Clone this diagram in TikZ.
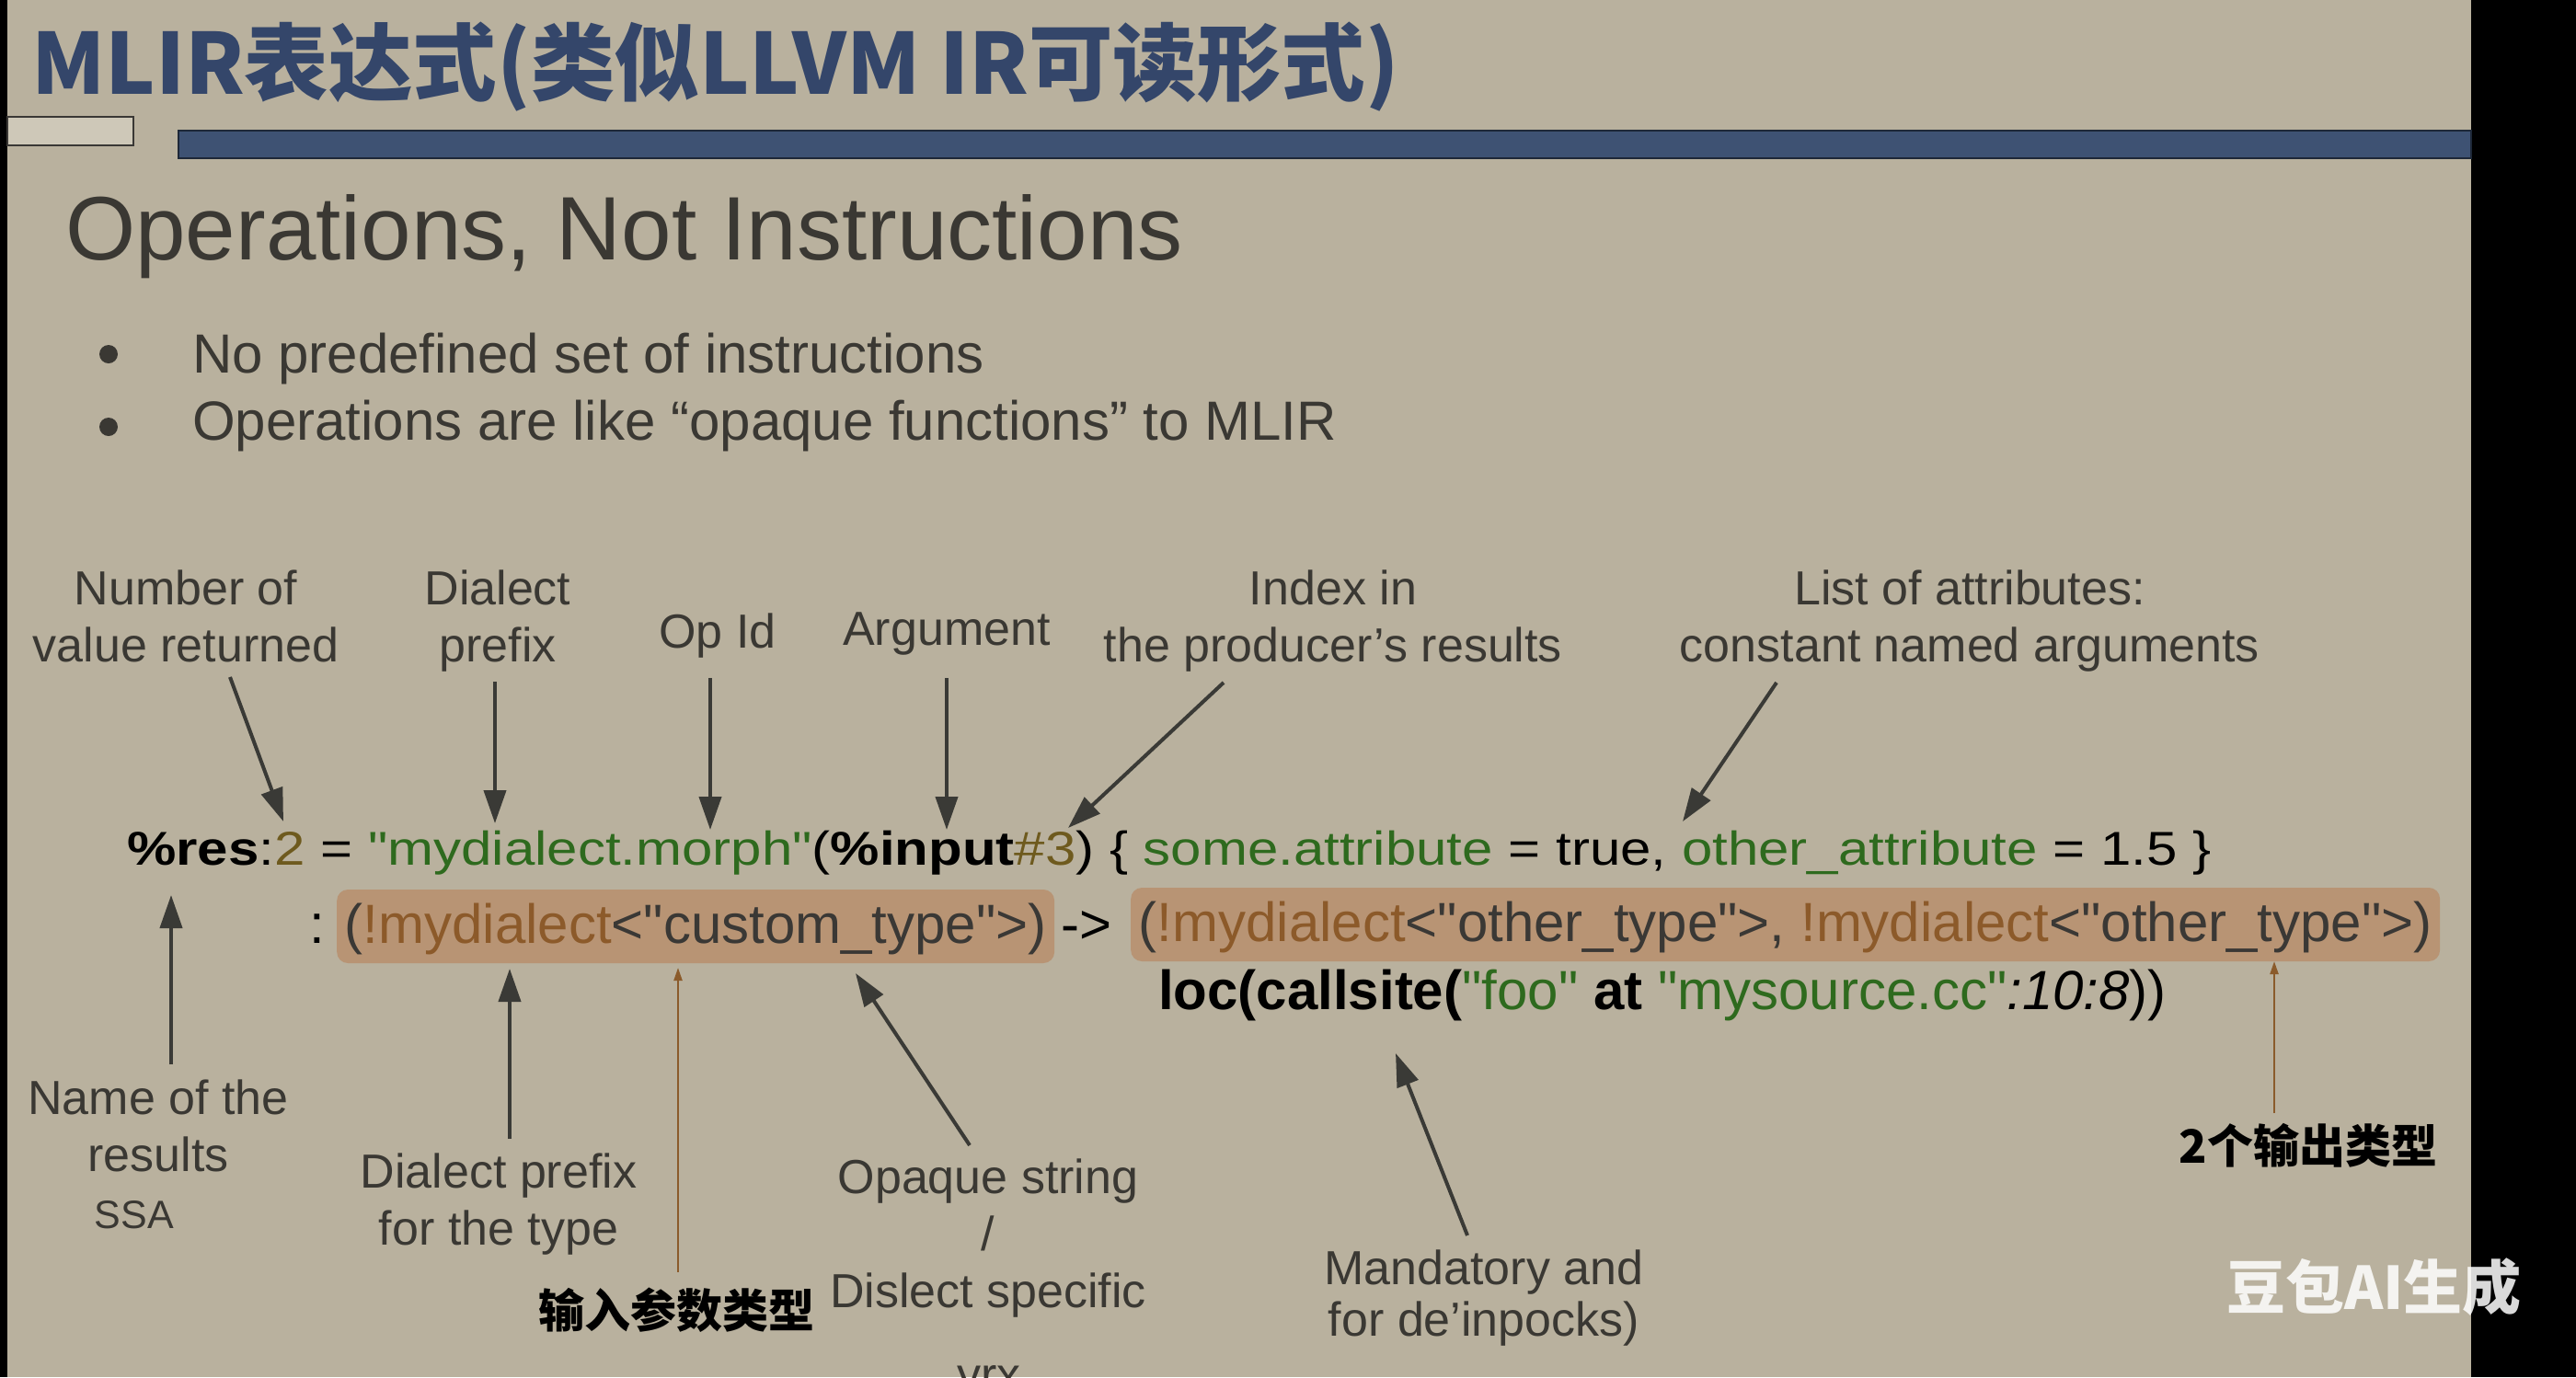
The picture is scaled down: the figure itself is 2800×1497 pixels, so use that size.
\documentclass[tikz,border=0pt]{standalone}
\usepackage{fontspec}
\usepackage{graphicx}
\setmainfont{Liberation Sans}
\newfontfamily\codefont{Liberation Sans}[Ligatures=TeXOff]
\newfontfamily\cjk{Noto Sans CJK SC}
\usetikzlibrary{arrows.meta,calc}
\definecolor{bg}{RGB}{185,177,158}
\definecolor{ttl}{RGB}{52,70,106}
\definecolor{barc}{RGB}{62,82,115}
\definecolor{bare}{RGB}{30,40,56}
\definecolor{boxf}{RGB}{206,200,184}
\definecolor{txt}{RGB}{58,56,51}
\definecolor{grn}{RGB}{46,106,30}
\definecolor{olv}{RGB}{110,90,30}
\definecolor{brn}{RGB}{140,90,42}
\definecolor{gry}{RGB}{58,56,53}
\definecolor{hl}{RGB}{184,148,116}
\definecolor{arrc}{RGB}{58,58,54}
\definecolor{barr}{RGB}{139,91,43}
\tikzset{
  lab/.style={font=\fontsize{52}{62}\selectfont, text=txt, align=center, inner sep=0pt, anchor=north},
  cjklab/.style={font=\cjk\bfseries\fontsize{50}{60}\selectfont, text=black, inner sep=0pt, anchor=north},
  darr/.style={draw=arrc, line width=4pt, -{Triangle[length=36pt,width=24pt]}},
  brarr/.style={draw=barr, line width=2.2pt, -{Triangle[length=14pt,width=9pt]}},
  codetxt/.style={font=\codefont\fontsize{60}{72}\selectfont, text=black, inner sep=0pt},
  tybox/.style={codetxt, fill=hl, rounded corners=12pt, inner xsep=8.5pt, inner ysep=0pt,
    minimum height=80pt, anchor=west, text height=49pt, text depth=13pt, text=gry},
  bullet/.style={circle, fill=txt, inner sep=0pt, minimum size=20pt}
}
\begin{document}
\begin{tikzpicture}[x=1pt,y=-1pt]
\useasboundingbox (0,0) rectangle (2800,1497);
\clip (0,0) rectangle (2800,1497);
% background
\fill[black] (0,0) rectangle (2800,1497);
\fill[bg] (8,0) rectangle (2686,1497);
% header
\node[font=\cjk\bfseries\fontsize{91.5}{100}\selectfont, text=ttl, inner sep=0pt, anchor=base west] (title) at (34,102) {MLIR表达式(类似LLVM IR可读形式)};
\filldraw[fill=boxf, draw=gry, line width=2.5pt] (8,127) rectangle (145,158);
\filldraw[fill=barc, draw=bare, line width=2pt] (194,142) rectangle (2686,172);
% slide heading and bullets
\node[font=\fontsize{98}{110}\selectfont, text=txt, inner sep=0pt, anchor=base west] (head) at (71,282) {Operations, Not Instructions};
\node[bullet] (b1) at (118,385) {};
\node[bullet] (b2) at (118,464) {};
\node[font=\fontsize{60}{72}\selectfont, text=txt, inner sep=0pt, anchor=base west] (bt1) at (209,405) {No predefined set of instructions};
\node[font=\fontsize{60}{72}\selectfont, text=txt, inner sep=0pt, anchor=base west] (bt2) at (209,478) {Operations are like “opaque functions” to MLIR};
% code line 1
\node[codetxt, anchor=base west] (ln1) at (138,940) {\scalebox{1}[0.86]{{\bfseries\%res}:\textcolor{olv}{2} = \textcolor{grn}{"mydialect.morph"}({\bfseries\%input}\textcolor{olv}{\#3}) \{ \textcolor{grn}{some.attribute} = true, \textcolor{grn}{other\_attribute} = 1.5 \}}};
% code line 2
\node[codetxt, anchor=base west] (colon) at (336,1025) {:};
\node[tybox] (ty1) at (366,1007) {(\textcolor{brn}{!mydialect}<"custom\_type">)};
\node[codetxt, anchor=base west] (to) at (1153,1025) {->};
\node[tybox] (ty2) at (1229,1005) {(\textcolor{brn}{!mydialect}<"other\_type">, \textcolor{brn}{!mydialect}<"other\_type">)};
% code line 3
\node[codetxt, anchor=base west] (ln3) at (1259,1097) {{\bfseries loc(callsite(}\textcolor{grn}{"foo"}{\bfseries{} at }\textcolor{grn}{"mysource.cc"}\textit{:10:8}))};
% top labels
\node[lab] (l1) at (202,620) {Number of\\value returned};
\node[lab] (l2) at (541,620) {Dialect\\prefix};
\node[lab] (l3) at (780,667) {Op Id};
\node[lab] (l4) at (1029,666) {Argument};
\node[lab] (l5) at (1449,620) {Index in\\the producer’s results};
\node[lab] (l6) at (2141,620) {List of attributes:\\constant named arguments};
\coordinate (t1) at (308,893);
\coordinate (t2) at (538,895);
\coordinate (t3) at (772,902);
\coordinate (t4) at (1029,902);
\coordinate (t5) at (1161,900);
\coordinate (t6) at (1829,893);
\draw[darr] ($(l1.north)+(48,116)$) -- (t1);
\draw[darr] ($(l2.north)+(-3,121)$) -- (t2);
\draw[darr] ($(l3.north)+(-8,70)$) -- (t3);
\draw[darr] ($(l4.north)+(0,71)$) -- (t4);
\draw[darr] ($(l5.north)+(-119,122)$) -- (t5);
\draw[darr] ($(l6.north)+(-210,122)$) -- (t6);
% bottom labels
\node[lab] (m1) at (172,1174) {Name of the\\results\\{\fontsize{43}{62}\selectfont SSA}\hspace*{52pt}};
\node[lab] (m2) at (542,1254) {Dialect prefix\\for the type};
\node[cjklab] (m3) at (735,1400) {输入参数类型};
\node[lab] (m4) at (1074,1260) {Opaque string\\/\\Dislect specific};
\node[lab, anchor=base] (m4b) at (1075,1512) {yrx};
\node[lab, font=\fontsize{52}{56}\selectfont] (m5) at (1613,1359) {Mandatory and\\for de’inpocks)};
\node[cjklab] (m6) at (2509,1221) {2个输出类型};
\coordinate (u1) at (186,973);
\coordinate (u2) at (554,1053);
\coordinate (u3) at (737,1052);
\coordinate (u4) at (930,1058);
\coordinate (u5) at (1517,1145);
\coordinate (u6) at (2472,1045);
\draw[darr] ($(m1.north)+(14,-17)$) -- (u1);
\draw[darr] ($(m2.north)+(12,-16)$) -- (u2);
\draw[brarr] ($(m3.north)+(2,-17)$) -- (u3);
\draw[darr] ($(m4.north)+(-20,-15)$) -- (u4);
\draw[darr] ($(m5.north)+(-18,-16)$) -- (u5);
\draw[brarr] ($(m6.north)+(-37,-11)$) -- (u6);
% watermark
\node[font=\cjk\bfseries\fontsize{64}{70}\selectfont, text=white, text opacity=0.85, inner sep=0pt, anchor=base west] (wm) at (2420,1423) {豆包AI生成};
\end{tikzpicture}
\end{document}
